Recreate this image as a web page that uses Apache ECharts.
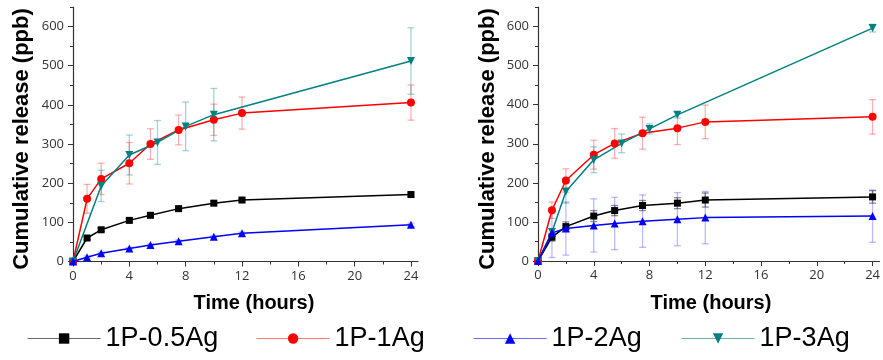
<!DOCTYPE html>
<html>
<head>
<meta charset="utf-8">
<script src="https://cdn.jsdelivr.net/npm/echarts@6/dist/echarts.min.js"></script>
<style>html,body{margin:0;padding:0;background:#fff;}#c{width:883px;height:360px;}</style>
</head>
<body>
<div id="c"></div>
<script>
// ---- data ----
const seriesNames = ['1P-0.5Ag', '1P-1Ag', '1P-2Ag', '1P-3Ag'];
const xTicks = [0, 4, 8, 12, 16, 20, 24];
const yTicks = [0, 100, 200, 300, 400, 500, 600];

// left panel
const leftTime = [0, 1, 2, 4, 5.5, 7.5, 10, 12, 24];
const leftTimeTeal = [0, 2, 4, 6, 8, 10, 24];
const left05 = [0, 60, 81, 105, 118, 135, 149, 157, 171];
const left05Err = [0, 4, 4, 5, 5, 5, 5, 5, 6];
const left1 = [0, 160, 211, 251, 300, 336, 362, 379, 406];
const left1Err = [0, 37, 40, 53, 39, 38, 40, 41, 45];
const left2 = [0, 11, 21, 33, 42, 52, 63, 72, 94];
const left2Err = [0, 3, 3, 3, 3, 3, 3, 3, 4];
const left3 = [0, 193, 272, 304, 345, 375, 512];
const left3Err = [0, 40, 51, 56, 62, 67, 85];

// right panel
const rightTime = [0, 1, 2, 4, 5.5, 7.5, 10, 12, 24];
const rightTimeTeal = [0, 1, 2, 4, 6, 8, 10, 24];
const right05 = [0, 61, 88, 115, 129, 142, 148, 156, 164];
const right05Err = [0, 10, 12, 14, 13, 13, 14, 18, 16];
const right1 = [0, 130, 206, 272, 301, 327, 340, 356, 369];
const right1Err = [0, 21, 30, 37, 38, 41, 42, 43, 44];
const right2 = [0, 72, 83, 91, 96, 102, 107, 111, 115];
const right2Err = [0, 63, 68, 68, 67, 67, 68, 67, 67];
const right3 = [0, 74, 178, 259, 301, 338, 374, 596];
const right3Err = [0, 0, 30, 33, 24, 13, 8, 10];

// ---- styles ----
const colors = ['#000000', '#ff0000', '#0000ff', '#008080'];
const errColors = ['rgba(0,0,0,0.45)', 'rgba(255,60,60,0.4)', 'rgba(60,60,255,0.35)', 'rgba(0,128,128,0.35)'];
const legendLineColors = ['#6a6a6a', '#ff7a7a', '#6a6aff', '#66b3b3'];
const symbols = ['rect', 'circle', 'triangle', 'path://M0,0L2,0L1,1.732Z'];
const symbolSizes = [7, 8, 8, 8];

const panels = [
  { time: leftTime, timeTeal: leftTimeTeal, vals: [left05, left1, left2, left3], errs: [left05Err, left1Err, left2Err, left3Err] },
  { time: rightTime, timeTeal: rightTimeTeal, vals: [right05, right1, right2, right3], errs: [right05Err, right1Err, right2Err, right3Err] }
];

const grids = [
  { left: 73, top: 7, width: 345, height: 254.5 },
  { left: 538, top: 7, width: 343, height: 254 }
];

const xMinor = [2, 6, 10, 14, 18, 22];
const yMinor = [50, 150, 250, 350, 450, 550, 650];
const axisColor = '#333';
const labelFont = { fontFamily: 'Open Sans', fontSize: 13, color: '#333' };

const xAxes = [], yAxes = [], series = [];
grids.forEach((g, gi) => {
  xAxes.push({
    type: 'value', gridIndex: gi, min: 0, max: 24.5, position: 'bottom',
    axisLine: { show: true, lineStyle: { color: axisColor, width: 1.2 } },
    axisTick: { show: true, customValues: xTicks, length: 5, lineStyle: { color: axisColor } },
    axisLabel: Object.assign({ customValues: xTicks, margin: 8 }, labelFont),
    splitLine: { show: false }
  });
  xAxes.push({
    type: 'value', gridIndex: gi, min: 0, max: 24.5, position: 'bottom',
    axisLine: { show: false },
    axisTick: { show: true, customValues: xMinor, length: 3, lineStyle: { color: axisColor } },
    axisLabel: { show: false }, splitLine: { show: false }
  });
  yAxes.push({
    type: 'value', gridIndex: gi, min: 0, max: 650, position: 'left',
    axisLine: { show: true, lineStyle: { color: axisColor, width: 1.2 } },
    axisTick: { show: true, customValues: yTicks, length: 5, lineStyle: { color: axisColor } },
    axisLabel: Object.assign({ customValues: yTicks, margin: 9 }, labelFont),
    splitLine: { show: false }
  });
  yAxes.push({
    type: 'value', gridIndex: gi, min: 0, max: 650, position: 'left',
    axisLine: { show: false },
    axisTick: { show: true, customValues: yMinor, length: 3, lineStyle: { color: axisColor } },
    axisLabel: { show: false }, splitLine: { show: false }
  });

  const p = panels[gi];
  for (let s = 0; s < 4; s++) {
    const t = s === 3 ? p.timeTeal : p.time;
    const v = p.vals[s], e = p.errs[s];
    const lineData = t.map((x, i) => [x, v[i]]);
    const errData = t.map((x, i) => [x, v[i], e[i]]);
    series.push({
      type: 'custom', name: seriesNames[s] + ' err' + gi,
      xAxisIndex: gi * 2, yAxisIndex: gi * 2, z: 1, silent: true,
      data: errData,
      renderItem: function (params, api) {
        const x = api.value(0), y = api.value(1), er = api.value(2);
        if (!er) return null;
        const top = api.coord([x, y + er]);
        const bot = api.coord([x, y - er]);
        const hw = 3.5;
        const st = { stroke: errColors[s], lineWidth: 1.3 };
        return {
          type: 'group', children: [
            { type: 'line', shape: { x1: top[0], y1: top[1], x2: bot[0], y2: bot[1] }, style: st },
            { type: 'line', shape: { x1: top[0] - hw, y1: top[1], x2: top[0] + hw, y2: top[1] }, style: st },
            { type: 'line', shape: { x1: bot[0] - hw, y1: bot[1], x2: bot[0] + hw, y2: bot[1] }, style: st }
          ]
        };
      }
    });
    series.push({
      type: 'line', name: seriesNames[s],
      xAxisIndex: gi * 2, yAxisIndex: gi * 2, z: s === 2 ? 6 : 3,
      data: lineData,
      symbol: symbols[s], symbolSize: symbolSizes[s],
      showAllSymbol: true,
      lineStyle: { color: colors[s], width: 1.5 },
      itemStyle: { color: colors[s] },
      emphasis: { disabled: true },
      animation: false
    });
  }
});

const legendLefts = [27, 256, 473, 681];
const legends = seriesNames.map((n, i) => ({
  data: [n], left: legendLefts[i], top: 325, padding: 0,
  itemWidth: 73, itemHeight: 13, itemGap: 0,
  lineStyle: { color: legendLineColors[i], width: 1.2 },
  textStyle: { fontFamily: 'Liberation Sans', fontSize: 27, color: '#000', padding: [0, 0, 0, 0] },
  selectedMode: false
}));

const titleFont = 'bold 22px "Liberation Sans", Arial, sans-serif';
const graphic = [
  { type: 'text', x: 22, y: 139, rotation: Math.PI / 2, style: { text: 'Cumulative release (ppb)', font: titleFont, fill: '#000', textAlign: 'center', textVerticalAlign: 'middle' } },
  { type: 'text', x: 488, y: 139, rotation: Math.PI / 2, style: { text: 'Cumulative release (ppb)', font: titleFont, fill: '#000', textAlign: 'center', textVerticalAlign: 'middle' } },
  { type: 'text', x: 254, y: 303, style: { text: 'Time (hours)', font: 'bold 20px "Liberation Sans", Arial, sans-serif', fill: '#000', textAlign: 'center', textVerticalAlign: 'middle' } },
  { type: 'text', x: 711, y: 303, style: { text: 'Time (hours)', font: 'bold 20px "Liberation Sans", Arial, sans-serif', fill: '#000', textAlign: 'center', textVerticalAlign: 'middle' } }
];

const chart = echarts.init(document.getElementById('c'), null, { renderer: 'canvas' });
chart.setOption({
  backgroundColor: '#fff',
  animation: false,
  grid: grids,
  xAxis: xAxes,
  yAxis: yAxes,
  legend: legends,
  graphic: graphic,
  series: series
});
</script>
</body>
</html>
